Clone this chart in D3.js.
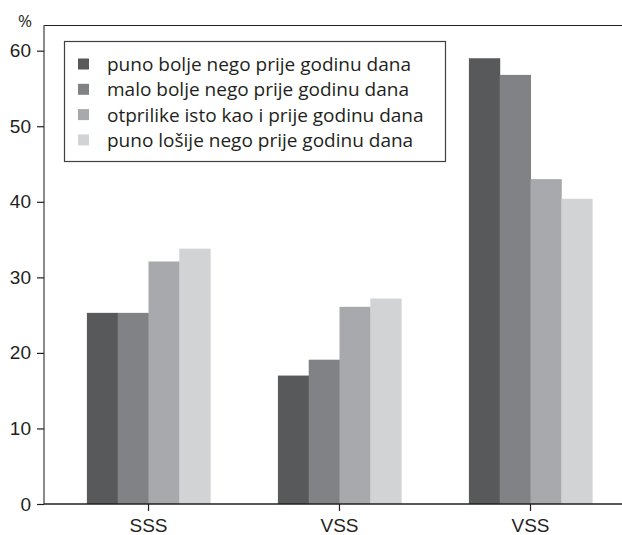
<!DOCTYPE html>
<html>
<head>
<meta charset="utf-8">
<script src="https://cdn.jsdelivr.net/npm/d3@7"></script>
<style>
  html, body { margin: 0; padding: 0; background: #fff; }
  svg { display: block; font-family: "Open Sans", "Noto Sans", sans-serif; }
</style>
</head>
<body>
<svg id="chart" width="622" height="535"></svg>
<script>
// Groups along the x axis
const categories = ["SSS", "VSS", "VSS"];
// Answer categories (legend order)
const seriesNames = [
  "puno bolje nego prije godinu dana",
  "malo bolje nego prije godinu dana",
  "otprilike isto kao i prije godinu dana",
  "puno lošije nego prije godinu dana"
];
// Percentages per series, one value per group
const puno_bolje = [25.3, 17.0, 59.0];
const malo_bolje = [25.3, 19.1, 56.8];
const isto = [32.1, 26.1, 43.0];
const puno_losije = [33.8, 27.2, 40.4];
const seriesValues = [puno_bolje, malo_bolje, isto, puno_losije];
const seriesColors = ["#58595b", "#808285", "#a7a9ac", "#d1d3d4"];
const yTicks = [0, 10, 20, 30, 40, 50, 60];

const svg = d3.select("#chart");
const plot = { left: 44, right: 622, top: 25, bottom: 504 };

const x0 = d3.scaleBand()
  .domain(d3.range(categories.length))
  .range([53, 626])
  .paddingInner(0.355)
  .paddingOuter(0.1775);

const x1 = d3.scaleBand()
  .domain(d3.range(seriesNames.length))
  .range([0, x0.bandwidth()]);

const y = d3.scaleLinear()
  .domain([0, 60])
  .range([plot.bottom, 50.7]);

// Bars
const groups = svg.append("g")
  .selectAll("g")
  .data(categories.map((c, i) => ({ c, i })))
  .join("g")
  .attr("transform", d => `translate(${x0(d.i)},0)`);

groups.selectAll("rect")
  .data(d => seriesValues.map((vals, s) => ({ s, v: vals[d.i] })))
  .join("rect")
  .attr("x", d => x1(d.s))
  .attr("width", x1.bandwidth() + 0.5)
  .attr("y", d => y(d.v))
  .attr("height", d => y(0) - y(d.v))
  .attr("fill", d => seriesColors[d.s]);

// Top frame line
svg.append("line")
  .attr("x1", plot.left).attr("x2", plot.right)
  .attr("y1", plot.top + 0.5).attr("y2", plot.top + 0.5)
  .attr("stroke", "#231f20").attr("stroke-width", 1.2);

// Y axis
const yAxis = svg.append("g")
  .attr("transform", `translate(${plot.left},0)`)
  .call(d3.axisLeft(y).tickValues(yTicks).tickSize(7).tickPadding(6).tickSizeOuter(0));
yAxis.select(".domain")
  .attr("d", `M0,${plot.top}V${plot.bottom}`)
  .attr("stroke", "#58595b").attr("stroke-width", 1.4);
yAxis.selectAll(".tick line").attr("stroke", "#231f20").attr("stroke-width", 1.2);
yAxis.selectAll(".tick text")
  .attr("fill", "#231f20")
  .style("font-size", "19px");

// X axis
const xAxis = svg.append("g")
  .attr("transform", `translate(0,${plot.bottom})`)
  .call(d3.axisBottom(x0).tickFormat(i => categories[i]).tickSize(7).tickPadding(8).tickSizeOuter(0));
xAxis.select(".domain")
  .attr("d", `M${plot.left},0H${plot.right}`)
  .attr("stroke", "#231f20").attr("stroke-width", 1.4);
xAxis.selectAll(".tick line").attr("stroke", "#231f20").attr("stroke-width", 1.2);
xAxis.selectAll(".tick text")
  .attr("fill", "#231f20")
  .style("font-size", "19px");

// Unit label
svg.append("text")
  .attr("x", 25).attr("y", 27)
  .attr("text-anchor", "middle")
  .attr("fill", "#231f20")
  .style("font-size", "17px")
  .text("%");

// Legend
const legend = svg.append("g");
legend.append("rect")
  .attr("x", 64.5).attr("y", 41.5)
  .attr("width", 381).attr("height", 120)
  .attr("fill", "#fff")
  .attr("stroke", "#404041").attr("stroke-width", 1.2);

const items = legend.selectAll("g.item")
  .data(seriesNames.map((n, i) => ({ n, i })))
  .join("g")
  .attr("class", "item")
  .attr("transform", d => `translate(78,${64 + d.i * 25.3})`);

items.append("rect")
  .attr("x", 0).attr("y", -5.5)
  .attr("width", 11).attr("height", 11)
  .attr("fill", d => seriesColors[d.i]);

items.append("text")
  .attr("x", 29).attr("y", 7)
  .attr("fill", "#231f20")
  .style("font-size", "19px")
  .text(d => d.n);
</script>
</body>
</html>
